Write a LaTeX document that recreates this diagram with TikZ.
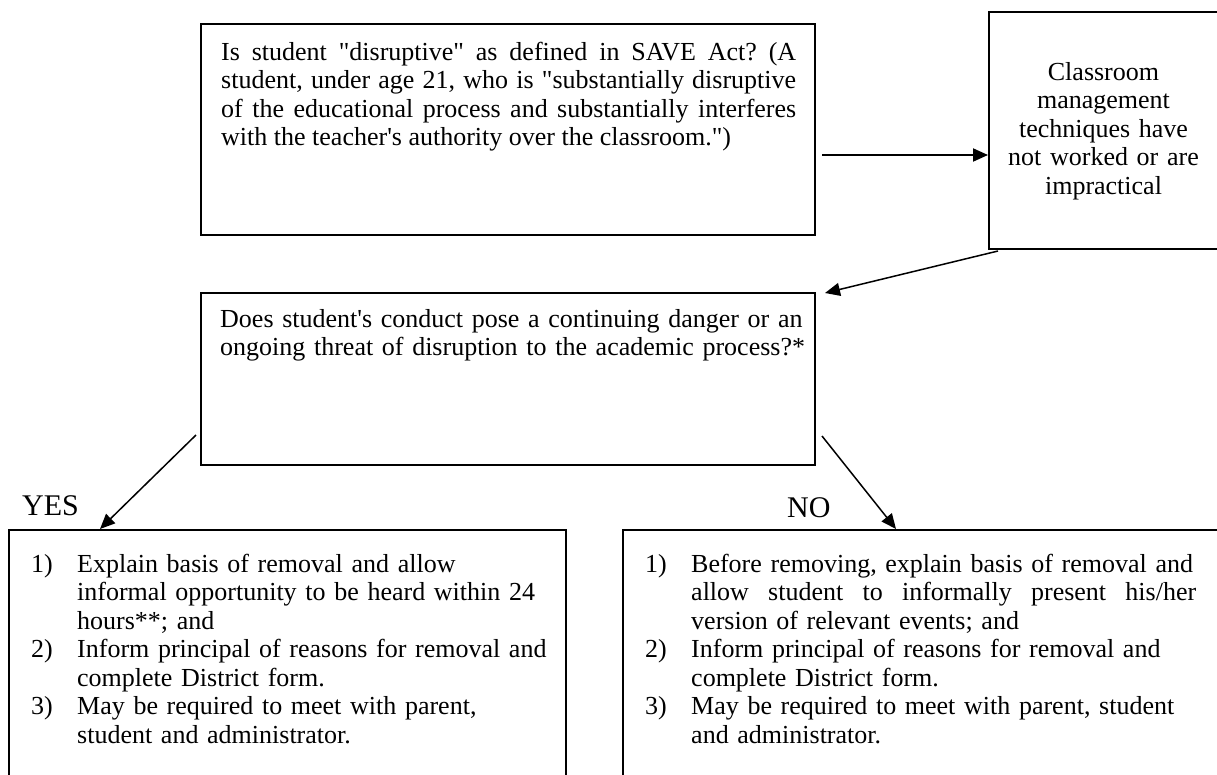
\documentclass[tikz,border=0pt]{standalone}
\usepackage{fontspec}
\setmainfont{Liberation Serif}
\usetikzlibrary{arrows.meta}
\usetikzlibrary{positioning}
\frenchspacing
\tikzset{box/.style = {draw, line width=2, inner sep=0, anchor=north west}}
\tikzset{txt/.style = {inner sep=0, anchor=base west, font=\fontsize{26}{28.5}\selectfont}}
\tikzset{answer/.style = {inner sep=0, anchor=base west, font=\fontsize{30}{34}\selectfont}}
\tikzset{flow/.style = {-{Triangle[length=15, width=13]}, line width=1.5}}
\newcommand{\listno}[1]{\makebox[46pt][l]{#1}}
\newcommand{\listgap}{\hspace*{46pt}}
\newcommand{\qq}{\textquotedbl}

\begin{document}
\begin{tikzpicture}[x=1pt, y=-1pt]
        \useasboundingbox (0,0) rectangle (1217,774);
        \clip (0,0) rectangle (1217,774);
        % boxes
        \node [box, minimum width=614, minimum height=211] (query) at (200,23) {};
        \node [box, minimum width=229, minimum height=237] (mgmt) at (988,11) {};
        \node [box, minimum width=614, minimum height=172] (danger) at (200,292) {};
        \node [box, minimum width=557, minimum height=260] (yesbox) at (8,529) {};
        \node [box, minimum width=620, minimum height=260] (nobox) at (622,529) {};
        % texts
        \node [txt, text width=575, align=justify] (query-text) at ([shift={(21,37)}]query.north west)
            {Is student \qq disruptive\qq{} as defined in SAVE Act? (A\linebreak
             student, under age 21, who is \qq substantially disruptive\linebreak
             of the educational process and substantially interferes\linebreak
             with the teacher\textquotesingle s authority over the classroom.\qq)};
        \node [txt, anchor=base, text width=225, align=center] (mgmt-text) at ([shift={(0,69)}]mgmt.north)
            {Classroom\\ management\\ techniques have\\ not worked or are\\ impractical};
        \node [txt, text width=590, align=left] (danger-text) at ([shift={(20,35)}]danger.north west)
            {Does student\textquotesingle s conduct pose a continuing danger or an\\
             ongoing threat of disruption to the academic process?*};
        \node [txt, text width=525, align=left] (yes-text) at ([shift={(23,43)}]yesbox.north west)
            {\listno{1)}Explain basis of removal and allow\\
             \listgap informal opportunity to be heard within 24\\
             \listgap hours**; and\\
             \listno{2)}Inform principal of reasons for removal and\\
             \listgap complete District form.\\
             \listno{3)}May be required to meet with parent,\\
             \listgap student and administrator.};
        \node [txt, text width=560, align=left] (no-text) at ([shift={(23,43)}]nobox.north west)
            {\listno{1)}Before removing, explain basis of removal and\\
             \listgap\hbox to 505pt{allow\hfill student\hfill to\hfill informally\hfill present\hfill his/her}\\
             \listgap version of relevant events; and\\
             \listno{2)}Inform principal of reasons for removal and\\
             \listgap complete District form.\\
             \listno{3)}May be required to meet with parent, student\\
             \listgap and administrator.};
        \node [answer] (yes) at ([shift={(14,-14)}]yesbox.north west) {YES};
        \node [answer] (no) at ([shift={(165,-12)}]nobox.north west) {NO};
        % arrows
        \draw [flow, line width=2] ([shift={(6,25.5)}]query.east) -- ([shift={(0,24.5)}]mgmt.west);
        \draw [flow] ([shift={(10,1)}]mgmt.south west) -- ([shift={(9,1)}]danger.north east);
        \draw [flow] ([shift={(-4,-31)}]danger.south west) -- ([shift={(92,0)}]yesbox.north west);
        \draw [flow] ([shift={(6,-30)}]danger.south east) -- ([shift={(274,0)}]nobox.north west);
    \end{tikzpicture}
\end{document}
